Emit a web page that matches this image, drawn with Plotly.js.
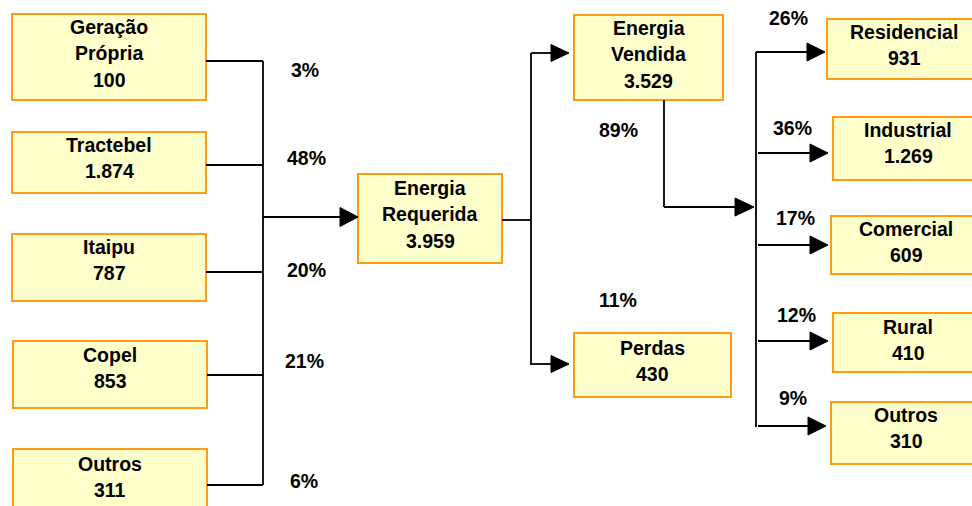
<!DOCTYPE html>
<html>
<head>
<meta charset="utf-8">
<script src="https://cdn.plot.ly/plotly-3.0.1.min.js"></script>
<style>html,body{margin:0;padding:0;background:#fff;}#chart{width:972px;height:506px;}</style>
</head>
<body>
<div id="chart"></div>
<script>
// ---- data ----
const nodeNames = ['Geração<br>Própria', 'Tractebel', 'Itaipu', 'Copel', 'Outros',
  'Energia<br>Requerida', 'Energia<br>Vendida', 'Perdas',
  'Residencial', 'Industrial', 'Comercial', 'Rural', 'Outros'];
const nodeValues = [100, 1874, 787, 853, 311, 3959, 3529, 430, 931, 1269, 609, 410, 310];
const sourceShares = [3, 48, 20, 21, 6];          // share of Energia Requerida
const splitShares = [89, 11];                      // Vendida, Perdas
const consumerShares = [26, 36, 17, 12, 9];        // share of Energia Vendida

// ---- layout (pixel geometry) ----
const boxes = [
  [12, 14, 206, 100], [12, 132, 206, 193], [12, 234, 206, 301], [13, 341, 207, 408], [13, 449, 207, 530],
  [358, 174, 502, 263], [574, 15, 723, 100], [574, 333, 731, 397],
  [827, 19, 981, 79], [833, 117, 983, 180], [831, 216, 981, 274], [833, 313, 983, 372], [831, 402, 981, 464]
];
const textY = [53, 158, 260, 368, 477, 214, 54, 361, 45, 143, 242, 340, 428];
const srcPctPos = [[305, 70], [306, 158], [306, 270], [304, 361], [304, 481]];
const splitPctPos = [[618, 130], [618, 300]];
const consPctPos = [[788, 18], [792, 128], [795, 218], [796, 315], [793, 398]];

function fmt(v) { return String(v).replace(/\B(?=(\d{3})+(?!\d))/g, '.'); }

const LINE = {color: '#000', width: 1.8};
const shapes = [];
const annotations = [];
const FONT = {family: 'Liberation Sans, Arial, sans-serif', size: 19.5, color: '#000'};

function seg(x0, y0, x1, y1) {
  shapes.push({type: 'line', xref: 'x', yref: 'y', x0, y0, x1, y1, line: LINE, layer: 'below'});
}
function arrowRight(xTip, y, w, h) {
  w = w || 18; h = h || 18;
  shapes.push({type: 'path', xref: 'x', yref: 'y',
    path: `M ${xTip} ${y} L ${xTip - w} ${y - h / 2} L ${xTip - w} ${y + h / 2} Z`,
    fillcolor: '#000', line: {color: '#000', width: 1}});
}

// boxes and labels
boxes.forEach((b, i) => {
  shapes.push({type: 'rect', xref: 'x', yref: 'y', x0: b[0], y0: b[1], x1: b[2], y1: b[3],
    fillcolor: '#FFFFCC', line: {color: '#FF9C14', width: 2}, layer: 'below'});
  const lines = nodeNames[i].split('<br>').concat([fmt(nodeValues[i])]);
  const n = lines.length;
  lines.forEach((t, k) => {
    annotations.push({xref: 'x', yref: 'y', x: (b[0] + b[2]) / 2,
      y: textY[i] + (k - (n - 1) / 2) * 26.5, text: '<b>' + t + '</b>', showarrow: false,
      font: FONT, xanchor: 'center', yanchor: 'middle'});
  });
});

// left collector
const srcLineY = [61, 165, 272, 375, 485];
srcLineY.forEach((y, i) => seg(boxes[i][2], y, 263, y));
seg(263, 61, 263, 485);
seg(263, 217, 342, 217);
arrowRight(358, 217, 18, 19);
// Requerida -> split
seg(502, 220, 531, 220);
seg(531, 53, 531, 365);
seg(531, 53, 553, 53); arrowRight(569, 53, 18, 17);
seg(531, 364, 553, 364); arrowRight(569, 364, 18, 17);
// Vendida -> consumers
seg(664, 100, 664, 207);
seg(664, 207, 738, 207); arrowRight(754, 207, 19, 18);
seg(756, 52, 756, 427);
const consY = [52, 153, 245, 341, 426];
const consTip = [825, 828, 828, 828, 826];
consY.forEach((y, i) => { seg(i === 0 ? 756 : 758, y, consTip[i] - 16, y); arrowRight(consTip[i], y, 18, 18); });

// percentages
function pct(v, p) {
  annotations.push({xref: 'x', yref: 'y', x: p[0], y: p[1], text: '<b>' + v + '%</b>', showarrow: false,
    font: FONT, xanchor: 'center', yanchor: 'middle'});
}
sourceShares.forEach((v, i) => pct(v, srcPctPos[i]));
splitShares.forEach((v, i) => pct(v, splitPctPos[i]));
consumerShares.forEach((v, i) => pct(v, consPctPos[i]));

const data = [{type: 'scatter', mode: 'markers', x: [0, 972], y: [0, 506], marker: {opacity: 0}, hoverinfo: 'skip', showlegend: false}];
const layout = {
  width: 972, height: 506, margin: {l: 0, r: 0, t: 0, b: 0},
  paper_bgcolor: '#fff', plot_bgcolor: '#fff', showlegend: false,
  xaxis: {range: [0, 972], visible: false, fixedrange: true},
  yaxis: {range: [506, 0], visible: false, fixedrange: true},
  shapes, annotations
};
Plotly.newPlot('chart', data, layout, {staticPlot: true, displayModeBar: false});
</script>
</body>
</html>
